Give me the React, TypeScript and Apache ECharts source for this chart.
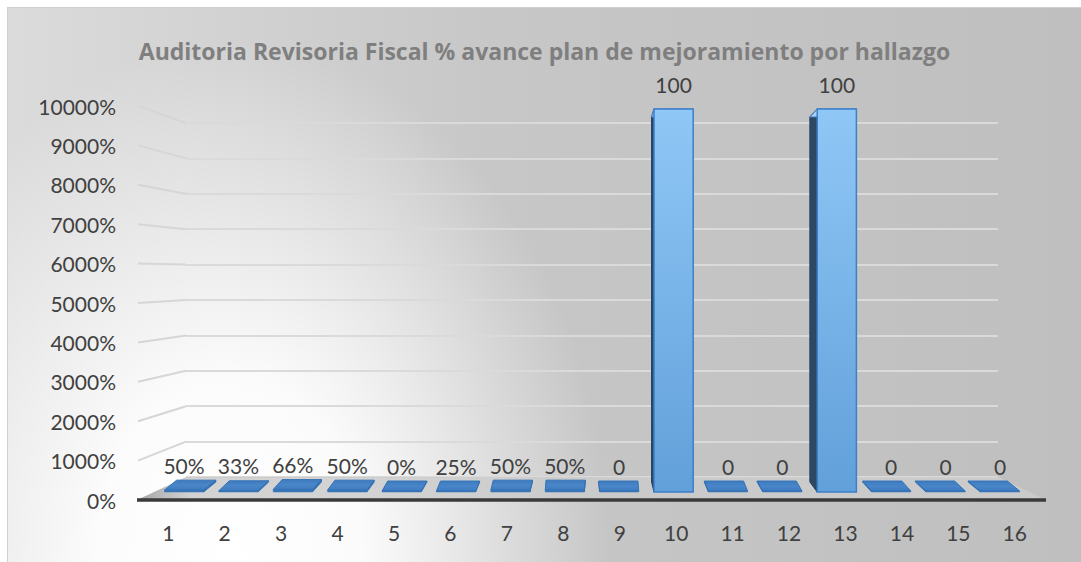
import React, { useEffect, useRef } from 'react';
import * as echarts from 'echarts';

// ---------- data ----------
const categories = ['1', '2', '3', '4', '5', '6', '7', '8', '9', '10', '11', '12', '13', '14', '15', '16'];
const values = [0.5, 0.33, 0.66, 0.5, 0, 0.25, 0.5, 0.5, 0, 100, 0, 0, 100, 0, 0, 0];
const valueLabels = ['50%', '33%', '66%', '50%', '0%', '25%', '50%', '50%', '0', '100', '0', '0', '100', '0', '0', '0'];
const yMin = 0;
const yMax = 100;
const yInterval = 10;
const titleText = 'Auditoria Revisoria Fiscal % avance plan de mejoramiento por hallazgo';

// ---------- layout (container px) ----------
const W = 1073;
const H = 554;
const FONT = 'Lato, "Noto Sans", sans-serif';
const TITLE_FONT = '"Open Sans", Lato, sans-serif';
const LABEL_SIZE = 21;
const gridFront = { left: 132, top: 98, width: 903, height: 394 };
const gridBack = { left: 178, top: 115, width: 812, height: 354 };
const gridBars = { left: 148.8, top: 101, width: 870.4, height: 383 };
const VX = gridBars.left + gridBars.width / 2;
const VY = 271;
const KX = 0.03;
const KY = 0.047;

export default function App() {
  const ref = useRef<HTMLDivElement>(null);

  useEffect(() => {
    if (!ref.current) return;
    const chart = echarts.init(ref.current, undefined, { renderer: 'svg' });

    const barData = values.map((v, i) => [i, v]);

    const option: any = {
      animation: false,
      textStyle: { fontFamily: FONT },
      title: {
        text: titleText,
        left: 'center',
        top: 26,
        textStyle: { fontFamily: TITLE_FONT, fontSize: 23, fontWeight: 'bold', color: '#7f7f7f' },
      },
      grid: [
        { ...gridFront, containLabel: false },
        { ...gridBack, containLabel: false },
        { ...gridBars, containLabel: false },
      ],
      xAxis: [
        {
          type: 'category',
          gridIndex: 0,
          data: categories,
          axisLine: { show: false },
          axisTick: { show: false },
          axisLabel: { margin: 22, fontSize: LABEL_SIZE, color: '#404040', fontFamily: FONT },
          splitLine: { show: false },
        },
        { type: 'value', gridIndex: 1, min: 0, max: 1, show: false },
        { type: 'category', gridIndex: 2, data: categories, show: false },
      ],
      yAxis: [
        {
          type: 'value',
          gridIndex: 0,
          min: yMin,
          max: yMax,
          interval: yInterval,
          axisLine: { show: false },
          axisTick: { show: false },
          splitLine: { show: false },
          axisLabel: {
            margin: 24,
            fontSize: LABEL_SIZE,
            color: '#404040',
            fontFamily: FONT,
            formatter: (v: number) => `${Math.round(v * 100)}%`,
          },
        },
        {
          type: 'value',
          gridIndex: 1,
          min: yMin,
          max: yMax,
          interval: yInterval,
          axisLine: { show: false },
          axisTick: { show: false },
          axisLabel: { show: false },
          splitLine: { show: true, lineStyle: { color: '#dadada', width: 2 } },
        },
        { type: 'value', gridIndex: 2, min: yMin, max: yMax, interval: yInterval, show: false },
      ],
      series: [
        {
          type: 'custom',
          xAxisIndex: 2,
          yAxisIndex: 2,
          z: 5,
          data: barData,
          renderItem: (params: any, api: any) => {
            const i = api.value(0);
            const v = api.value(1);
            const text = valueLabels[i];
            const base = api.coord([i, 0]);
            const top = api.coord([i, v]);
            const bw = api.size([1, 0])[0] * 0.72;
            const cx = base[0];
            const x0 = cx - bw / 2;
            const x1 = cx + bw / 2;
            const by = base[1];
            const ty = Math.min(top[1], by - 1);
            const dxt = (VX - cx) * KX;
            const dyt = (VY - ty) * KY;
            const dxb = (VX - cx) * KX;
            const dyb = (VY - by) * KY;
            const tall = by - ty > 20;
            const children: any[] = [];
            const sx = dxt > 0 ? x1 : x0;
            children.push({
              type: 'polygon',
              shape: {
                points: [
                  [sx, ty],
                  [sx, by],
                  [sx + dxb, by + dyb],
                  [sx + dxt, ty + dyt],
                ],
              },
              style: { fill: tall ? '#2c4862' : '#3270b0', stroke: tall ? '#23405c' : '#3270b0', lineWidth: 1 },
            });
            children.push({
              type: 'polygon',
              shape: {
                points: [
                  [x0, ty],
                  [x1, ty],
                  [x1 + dxt, ty + dyt],
                  [x0 + dxt, ty + dyt],
                ],
              },
              style: {
                fill: tall
                  ? '#a6d2f8'
                  : new echarts.graphic.LinearGradient(0, 0, 0, 1, [
                      { offset: 0, color: '#3c7bc0' },
                      { offset: 0.5, color: '#4a86c8' },
                      { offset: 1, color: '#3c7bc0' },
                    ]),
                stroke: tall ? '#3d7fc9' : '#3673b6',
                lineWidth: 1,
              },
            });
            children.push({
              type: 'rect',
              shape: { x: x0, y: ty, width: bw, height: by - ty },
              style: {
                fill: tall
                  ? new echarts.graphic.LinearGradient(0, 0, 0, 1, [
                      { offset: 0, color: '#8fc7f6' },
                      { offset: 1, color: '#62a0da' },
                    ])
                  : '#3a76b8',
                stroke: tall ? '#3d7fc9' : '#3673b6',
                lineWidth: tall ? 1.5 : 0.5,
              },
            });
            children.push({
              type: 'text',
              style: {
                text,
                x: cx,
                y: ty - 25,
                align: 'center',
                verticalAlign: 'middle',
                fill: '#404040',
                fontSize: LABEL_SIZE,
                fontFamily: FONT,
              },
            });
            return { type: 'group', children };
          },
        },
      ],
    };

    chart.setOption(option);

    const fy = (v: number) => chart.convertToPixel({ yAxisIndex: 0 }, v) as number;
    const byy = (v: number) => chart.convertToPixel({ yAxisIndex: 1 }, v) as number;
    const frontLeft = gridFront.left - 3;
    const frontRight = gridFront.left + gridFront.width + 3;
    const backLeft = gridBack.left;
    const backRight = gridBack.left + gridBack.width;
    const ticks: number[] = [];
    for (let t = yMin + yInterval; t <= yMax; t += yInterval) ticks.push(t);

    const graphic: any[] = [
      {
        type: 'rect',
        z: -10,
        silent: true,
        shape: { x: 0, y: 0, width: W, height: H },
        style: {
          fill: new echarts.graphic.LinearGradient(0, 0, 1, 0, [
            { offset: 0, color: '#dbdbdb' },
            { offset: 0.45, color: '#c7c7c7' },
            { offset: 1, color: '#bfbfbf' },
          ]),
        },
      },
      {
        type: 'circle',
        z: -9,
        silent: true,
        x: 222,
        y: 552,
        scaleX: 3.8,
        scaleY: 5.2,
        shape: { cx: 0, cy: 0, r: 100 },
        style: {
          fill: new echarts.graphic.RadialGradient(0.5, 0.5, 0.5, [
            { offset: 0, color: 'rgba(255,255,255,1)' },
            { offset: 0.35, color: 'rgba(255,255,255,0.92)' },
            { offset: 1, color: 'rgba(255,255,255,0)' },
          ]),
        },
      },
      ...ticks.map((t) => ({
        type: 'line',
        z: 0,
        silent: true,
        shape: { x1: frontLeft + 1, y1: fy(t), x2: backLeft, y2: byy(t) },
        style: { stroke: '#d6d6d6', lineWidth: 2 },
      })),
      {
        type: 'polygon',
        z: 1,
        silent: true,
        shape: {
          points: [
            [backLeft, byy(0)],
            [backRight, byy(0)],
            [frontRight, fy(0)],
            [frontLeft, fy(0)],
          ],
        },
        style: {
          fill: new echarts.graphic.LinearGradient(0, 0, 1, 0, [
            { offset: 0, color: 'rgba(150,150,150,0.85)' },
            { offset: 0.06, color: 'rgba(200,200,200,0.8)' },
            { offset: 1, color: 'rgba(206,206,206,0.8)' },
          ]),
        },
      },
      {
        type: 'line',
        z: 1,
        silent: true,
        shape: { x1: frontLeft, y1: fy(0), x2: frontRight, y2: fy(0) },
        style: { stroke: '#3a3a3a', lineWidth: 3.5 },
      },
    ];
    chart.setOption({ graphic });

    return () => chart.dispose();
  }, []);

  return (
    <div
      style={{
        position: 'absolute',
        left: 7,
        top: 7,
        borderLeft: '1px solid #d0d0d0',
        borderTop: '1px solid #d0d0d0',
      }}
    >
      <div ref={ref} style={{ width: W, height: H }} />
    </div>
  );
}
